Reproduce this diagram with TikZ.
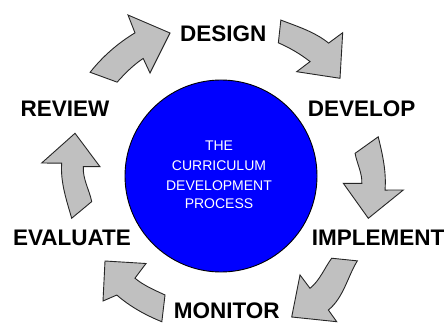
\documentclass[tikz,border=0pt]{standalone}
\usepackage{fontspec}
\setmainfont{Liberation Sans}
\usetikzlibrary{calc}
\definecolor{arrowgray}{RGB}{192,192,192}
\definecolor{hubblue}{RGB}{0,0,255}
\begin{document}
\begin{tikzpicture}[x=1pt,y=-1pt,
  blk/.style={fill=arrowgray,draw=black!85,line width=0.9pt,line join=miter},
  lbl/.style={font=\fontsize{22.5}{24}\selectfont\bfseries, inner sep=0pt},
  ctr/.style={font=\fontsize{14}{16}\selectfont, text=white, inner sep=0pt},
  spir/.style n args={4}{insert path={.. controls ($(hub.center)+(#1:#2)+({(#1)+90*sign((#3)-(#1))}:{4/3*tan(abs((#3)-(#1))/4)*(#2)})$) and ($(hub.center)+(#3:#4)+({(#3)-90*sign((#3)-(#1))}:{4/3*tan(abs((#3)-(#1))/4)*(#4)})$) .. ($(hub.center)+(#3:#4)$)}}
]
\useasboundingbox (0,0) rectangle (446,323);
\fill[white] (0,0) rectangle (446,323);
\node[circle, fill=hubblue, draw=black, line width=0.9pt, minimum size=192pt, inner sep=0pt] (hub) at (221,176) {};
% centre text
\node[ctr] (t1) at (219,146) {THE};
\node[ctr] (t2) at (219,166) {CURRICULUM};
\node[ctr] (t3) at (219,186) {DEVELOPMENT};
\node[ctr] (t4) at (219,204) {PROCESS};
% labels
\node[lbl] (design)    at (223.3,33.5) {DESIGN};
\node[lbl] (develop)   at (361.7,109)  {DEVELOP};
\node[lbl] (implement) at (378,238)    {IMPLEMENT};
\node[lbl] (monitor)   at (226.7,311) {MONITOR};
\node[lbl] (evaluate)  at (72,238)     {EVALUATE};
\node[lbl] (review)    at (65,109)     {REVIEW};
% block arrows
% review -> design
\path[blk] ($(hub.center)+(-141.6:167)$) -- ($(hub.center)+(-137.9:140)$) [spir={-137.9}{140}{-123.5}{141}]
  -- (150,73) -- (170,33) -- (128,15) -- ($(hub.center)+(-121:167)$) [spir={-121}{167}{-141.6}{167}] -- cycle;
% design -> develop
\path[blk] ($(hub.center)+(-69:167)$) [spir={-69}{167}{-51}{171}]
  -- (342.7,32.7) -- (340,78.3) -- (296.7,71.7) -- ($(hub.center)+(-52.1:145)$) [spir={-52.1}{145}{-66.7}{145}] -- cycle;
% develop -> implement
\path[blk] ($(hub.center)+(-14:162)$) [spir={-14}{162}{4.9}{164.6}]
  -- (403.3,190) -- (368.3,218.3) -- (343.3,183.3) -- ($(hub.center)+(3:141)$) [spir={3}{141}{-9.6}{136}] -- cycle;
% implement -> monitor
\path[blk] ($(hub.center)+(31.9:160.6)$) [spir={31.9}{160.6}{51.3}{171.7}]
  -- (336.7,321.7) -- (291.7,317) -- (300,275) -- ($(hub.center)+(51.6:143.3)$) [spir={51.6}{143.3}{36.6}{137.9}] -- cycle;
% monitor -> evaluate
\path[blk] ($(hub.center)+(112.1:157.3)$) [spir={112.1}{157.3}{131.2}{158.2}]
  -- (103,301) -- (105,261) -- (146,263.5) -- ($(hub.center)+(130.1:133.6)$) [spir={130.1}{133.6}{115.2}{131.5}] -- cycle;
% evaluate -> review
\path[blk] ($(hub.center)+(164.2:155.2)$) [spir={164.2}{155.2}{184.6}{159.8}]
  -- (41.7,163) -- (75,133.3) -- (100,166.7) -- ($(hub.center)+(183.9:138)$) [spir={183.9}{138}{168.8}{131.8}] -- cycle;
\end{tikzpicture}
\end{document}
